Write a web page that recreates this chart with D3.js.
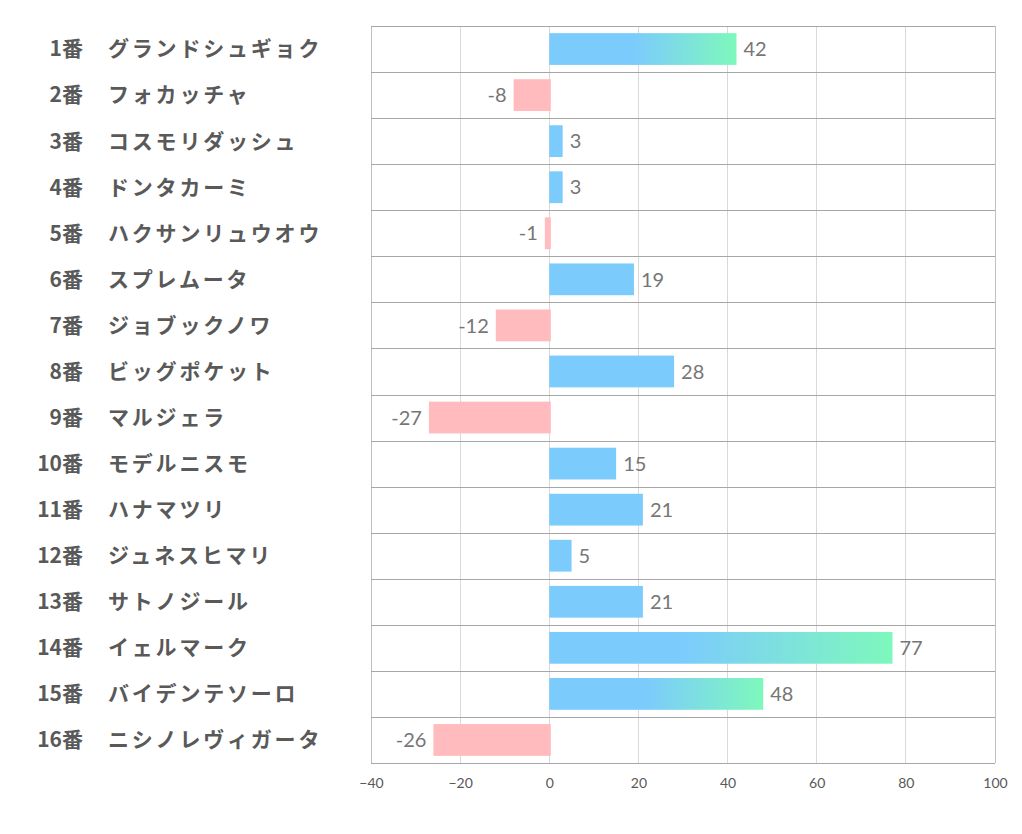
<!DOCTYPE html>
<html><head><meta charset="utf-8">
<script src="https://cdn.jsdelivr.net/npm/d3@7"></script>
<style>body{margin:0;background:#fff}svg{display:block}</style>
</head><body>
<script>
const numbers = ["1番","2番","3番","4番","5番","6番","7番","8番","9番","10番","11番","12番","13番","14番","15番","16番"];
const names = ["グランドシュギョク","フォカッチャ","コスモリダッシュ","ドンタカーミ","ハクサンリュウオウ","スプレムータ","ジョブックノワ","ビッグポケット","マルジェラ","モデルニスモ","ハナマツリ","ジュネスヒマリ","サトノジール","イェルマーク","バイデンテソーロ","ニシノレヴィガータ"];
const values = [42,-8,3,3,-1,19,-12,28,-27,15,21,5,21,77,48,-26];
const tickValues = [-40,-20,0,20,40,60,80,100];

const W=1022,H=834;
const m={left:371,right:995,top:26,bottom:763};
const svg=d3.select("body").append("svg").attr("width",W).attr("height",H);
const defs=svg.append("defs");
const x=d3.scaleLinear().domain([-40,100]).range([m.left,m.right]);
const y=d3.scaleBand().domain(d3.range(values.length)).range([m.top,m.bottom]).paddingInner(0.31).paddingOuter(0.155);
const band=d3.scaleBand().domain(d3.range(values.length)).range([m.top,m.bottom]);

// vertical grid
svg.append("g").selectAll("line").data(tickValues).join("line")
 .attr("x1",d=>x(d)).attr("x2",d=>x(d)).attr("y1",m.top).attr("y2",m.bottom)
 .attr("stroke",d=>(d===-40||d===100)?"#bfbfbf":"#d9d9d9").attr("stroke-width",1).attr("shape-rendering","crispEdges");
// horizontal row lines
const rowEdges=d3.range(values.length+1).map(i=>i<values.length?band(i):m.bottom);
svg.append("g").selectAll("line").data(rowEdges).join("line")
 .attr("x1",m.left).attr("x2",m.right).attr("y1",d=>Math.round(d)+0.5).attr("y2",d=>Math.round(d)+0.5)
 .attr("stroke","#a6a6a6").attr("stroke-width",1);

// gradients
values.forEach((v,i)=>{
 if(v>=40){
  const g=defs.append("linearGradient").attr("id","g"+i).attr("x1","0").attr("x2","1").attr("y1","0").attr("y2","0");
  g.append("stop").attr("offset","0%").attr("stop-color","#7ccbfd");
  g.append("stop").attr("offset",v>60?"38%":"45%").attr("stop-color","#7ccbfd");
  g.append("stop").attr("offset","100%").attr("stop-color","#7ef8bc");
 }
});

svg.append("g").selectAll("rect").data(values).join("rect")
 .attr("x",d=>x(Math.min(0,d)))
 .attr("width",d=>Math.abs(x(d)-x(0))+(d<0?1.5:0))
 .attr("y",(d,i)=>y(i)).attr("height",y.bandwidth())
 .attr("fill",(d,i)=>d<0?"#ffbbbd":(d>=40?`url(#g${i})`:"#7ccbfd"));

// value labels
svg.append("g").selectAll("text").data(values).join("text")
 .attr("x",d=>d<0?x(d)-7:x(d)+7)
 .attr("y",(d,i)=>y(i)+y.bandwidth()/2)
 .attr("dy","0.36em")
 .attr("text-anchor",d=>d<0?"end":"start")
 .attr("font-family","Lato, 'Open Sans', sans-serif").attr("font-size",20).attr("fill","#767676")
 .text(d=>d);

// category labels
const lab=svg.append("g").attr("font-family","'Noto Sans CJK JP', sans-serif").attr("font-weight","bold").attr("font-size",21).attr("fill","#595959");
lab.selectAll("text.num").data(numbers).join("text").attr("class","num")
 .attr("x",83).attr("y",(d,i)=>band(i)+band.bandwidth()/2).attr("dy","0.35em").attr("text-anchor","end").text(d=>d);
lab.selectAll("text.nm").data(names).join("text").attr("class","nm")
 .attr("x",108).attr("y",(d,i)=>band(i)+band.bandwidth()/2).attr("dy","0.35em").attr("letter-spacing","2.8px").text(d=>d);

// x axis tick labels
const ax=svg.append("g").attr("transform",`translate(0,${m.bottom})`)
 .call(d3.axisBottom(x).tickValues(tickValues).tickSize(0).tickPadding(15));
ax.select(".domain").remove();
ax.selectAll("text").attr("font-family","Lato, 'Open Sans', sans-serif").attr("font-size",14).attr("fill","#595959");
</script>
</body></html>
